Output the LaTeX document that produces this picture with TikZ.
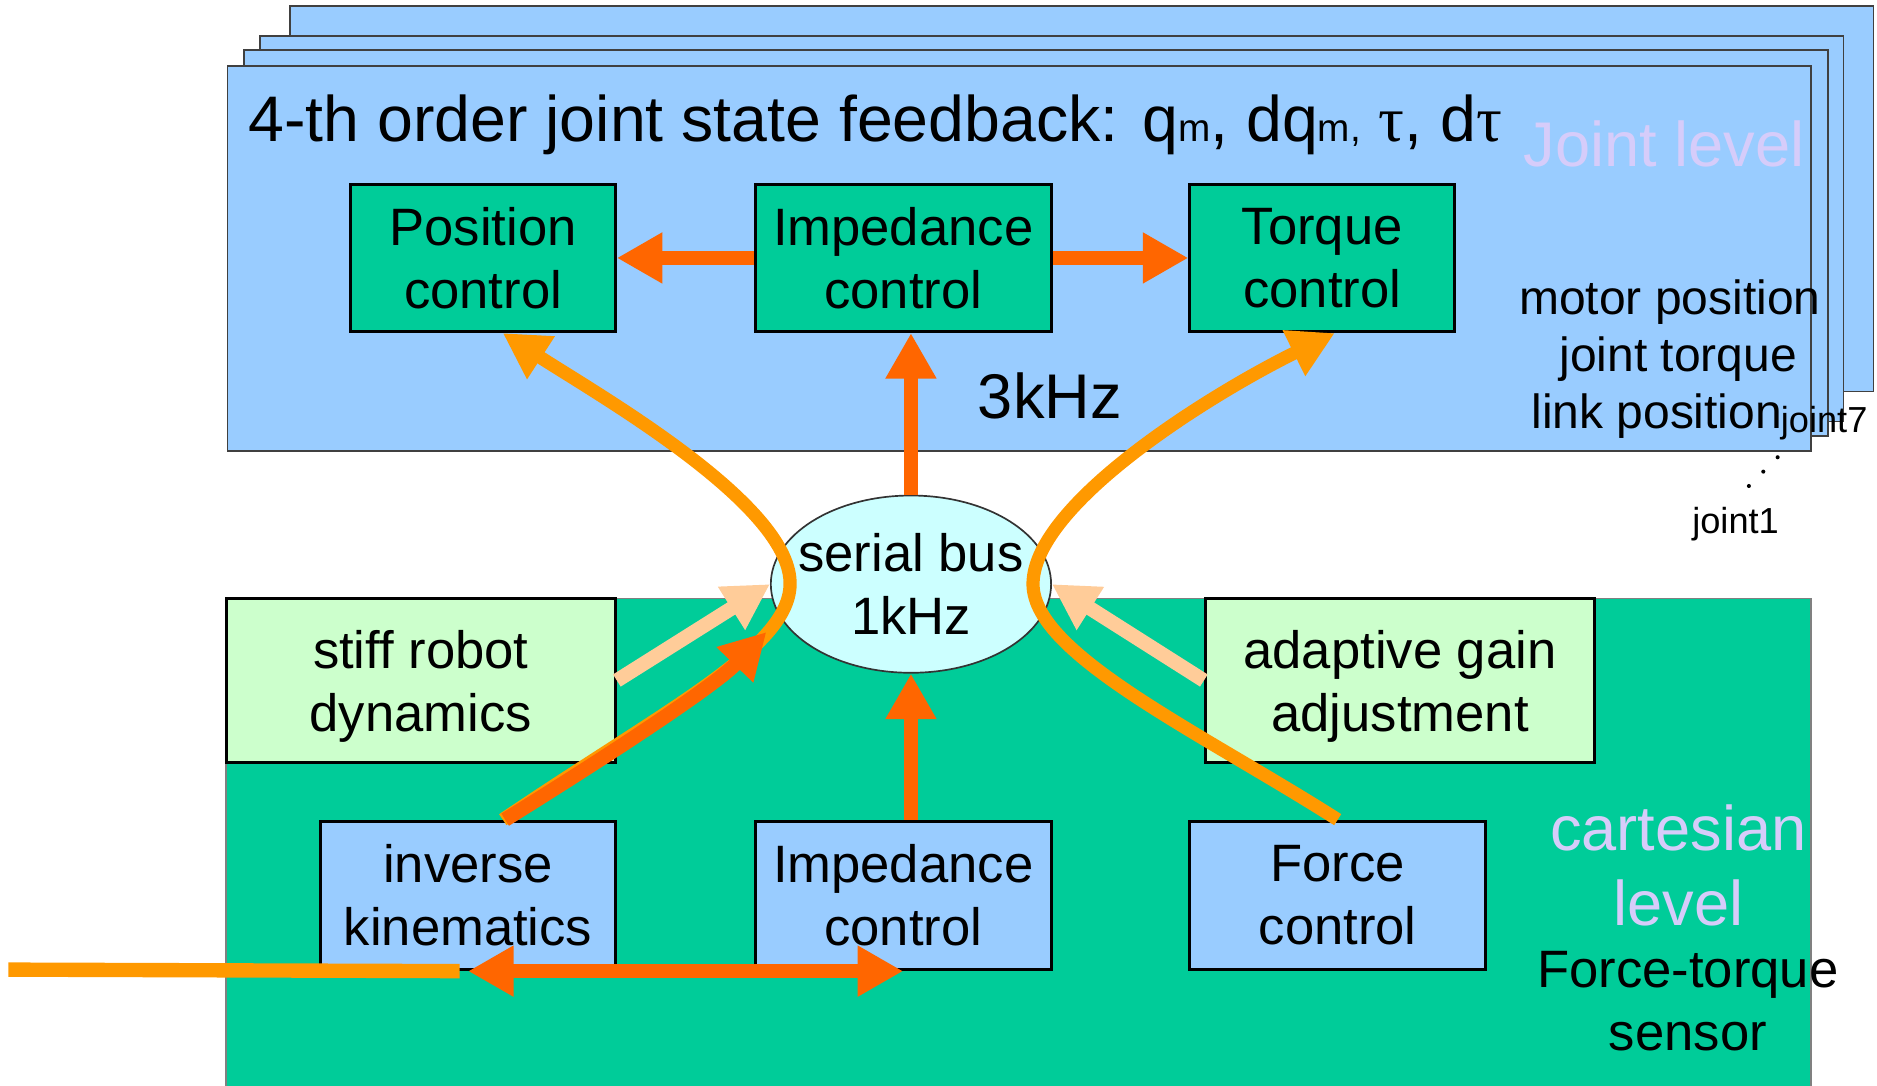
\documentclass[tikz,border=0pt]{standalone}
\usepackage{fontspec}
\setmainfont{Liberation Sans}
\newfontfamily\greekfont{Liberation Serif}
\usetikzlibrary{shapes.geometric, arrows.meta}

\definecolor{skyblue}{HTML}{99CCFF}
\definecolor{seagreen}{HTML}{00CC99}
\definecolor{palegreen}{HTML}{CCFFCC}
\definecolor{paleaqua}{HTML}{CCFFFF}
\definecolor{redorange}{HTML}{FF6600}
\definecolor{amber}{HTML}{FF9900}
\definecolor{peach}{HTML}{FFCC99}
\definecolor{lavender}{HTML}{D6CCFA}

\newcommand{\blockfont}{\fontsize{12.5}{15}\selectfont}
\newcommand{\headingfont}{\fontsize{15.3}{18}\selectfont}
\newcommand{\levelfont}{\fontsize{15}{18}\selectfont}
\newcommand{\notefont}{\fontsize{11.4}{13.6}\selectfont}
\newcommand{\jointfont}{\fontsize{8.6}{10}\selectfont}
\newcommand{\submfont}{\fontsize{9.2}{10}\selectfont}

\tikzstyle{sheet} = [draw=black!75, line width=0.4pt, fill=skyblue]
\tikzstyle{panel} = [draw=black!50, line width=0.4pt, fill=seagreen]
\tikzstyle{jointbox} = [rectangle, draw=black, line width=0.7pt, fill=seagreen, minimum height=1.23cm, align=center, font=\blockfont]
\tikzstyle{cartbox} = [rectangle, draw=black, line width=0.7pt, fill=skyblue, minimum height=1.24cm, align=center, font=\blockfont]
\tikzstyle{helperbox} = [rectangle, draw=black, line width=0.7pt, fill=palegreen, minimum width=3.25cm, minimum height=1.37cm, text depth=0pt, align=center, font=\blockfont]
\tikzstyle{bus} = [ellipse, draw=black!80, line width=0.4pt, fill=paleaqua, minimum width=2.34cm, minimum height=1.48cm, inner ysep=0pt, inner xsep=-0.113cm, align=center, font=\blockfont]
\tikzstyle{label} = [inner sep=0pt, font=\blockfont]
\tikzstyle{arrow} = [line width=0.12cm, draw=redorange, ->, >={Triangle[length=0.38cm, width=0.40cm]}]
\tikzstyle{feedback} = [line width=0.11cm, draw=amber, ->, >={Triangle[length=0.38cm, width=0.40cm]}]
\tikzstyle{feed} = [line width=0.12cm, draw=amber]
\tikzstyle{gain} = [line width=0.12cm, draw=peach, ->, >={Triangle[length=0.38cm, width=0.40cm]}]

\begin{document}
\begin{tikzpicture}[x=0.01cm, y=-0.01cm]

\useasboundingbox (0,0) rectangle (1568,907);

% one sheet per joint
\draw [sheet] (242,5) rectangle (1565,327);
\draw [sheet] (217,30) rectangle (1540,352);
\draw [sheet] (204,42) rectangle (1527,364);
\draw [sheet] (190,55) rectangle (1513,377);
\draw [panel] (189,500) rectangle (1513,920);

\node (pos) [jointbox, minimum width=2.21cm] at (403.5,215.5) {Position\\control};
\node (impj) [jointbox, minimum width=2.47cm] at (754.5,215.5) {Impedance\\control};
\node (torq) [jointbox, minimum width=2.21cm] at (1104.5,215.5) {Torque\\control};

\node (stiff) [helperbox] at (351.5,568.5) {stiff robot\\dynamics};
\node (adapt) [helperbox] at (1169.5,568.5) {adaptive gain\\adjustment};

\node (ik) [cartbox, minimum width=2.46cm] at (391,748) {inverse\\kinematics};
\node (impc) [cartbox, minimum width=2.47cm] at (754.5,748) {Impedance\\control};
\node (force) [cartbox, minimum width=2.47cm] at (1117.5,748) {Force\\control};

\node (bus) [bus] at (761,488) {serial bus\\1kHz};

\node (title) [label, anchor=base west, font=\headingfont] at (207,118) {4-th order joint state feedback: q{\submfont m}, dq{\submfont m,} {\greekfont τ}, d{\greekfont τ}};
\node (jlevel) [label, anchor=base west, font=\levelfont, text=lavender] at (1272,139) {Joint level};
\node (signals) [label, align=center, font=\notefont] at (1395,300) {motor position\\\hspace*{0.14cm}joint torque\\link position\hspace*{0.22cm}};
\node (rate) [label, anchor=base, font=\levelfont] at (877,350) {3kHz};
\node (j7) [label, anchor=base west, font=\jointfont] at (1487,361) {joint7};
\node (j1) [label, anchor=base west, font=\jointfont] at (1413,446) {joint1};
\fill (1485,382) circle (0.017cm);
\fill (1473,394) circle (0.017cm);
\fill (1461,406) circle (0.017cm);
\node (cart) [label, align=center, font=\levelfont, text=lavender] at (1402,723) {cartesian\\level};
\node (fts) [label, align=center] at (1410,836) {Force-torque\\sensor};

% joint level
\draw [arrow] (impj) -- (pos);
\draw [arrow] (impj) -- (torq);
\draw [arrow] (bus.north) -- (bus.north |- impj.south);

% cartesian level
\draw [arrow] (bus.south |- impc.north) -- (bus.south);
\draw [gain] (stiff.east) -- (bus.west);
\draw [gain] (adapt.west) -- (bus.east);
\draw [feedback] ([xshift=0.29cm]ik.north) .. controls (560,590) and (662,540) .. (660,486) .. controls (658,420) and (500,330) .. ([xshift=0.165cm]pos.south);
\draw [feedback] (force.north) .. controls (1000,610) and (860,545) .. (863,486) .. controls (866,420) and (1010,330) .. ([xshift=0.105cm]torq.south);
\draw [arrow] ([xshift=0.31cm]ik.north) .. controls (502,635) and (596,574) .. ([xshift=-0.03cm, yshift=-0.40cm]bus.west);
\coordinate (cmd) at (7,810);
\draw [feed] (cmd) -- ([xshift=-0.07cm]ik.south);
\draw [arrow, <->] (ik.south) -- (impc.south);

\end{tikzpicture}
\end{document}
